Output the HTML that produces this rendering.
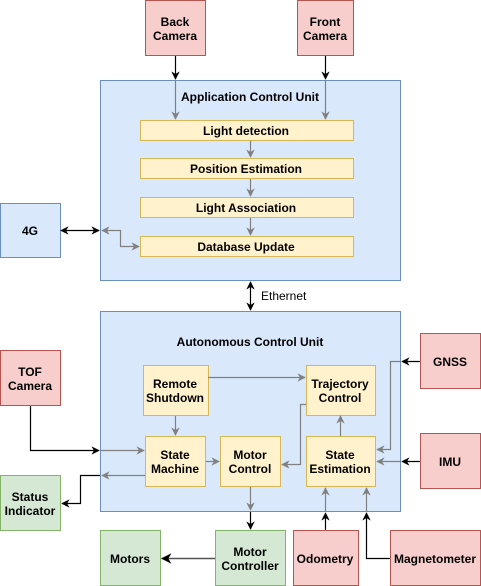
<!DOCTYPE html>
<html><head><meta charset="utf-8"><style>
html,body{margin:0;padding:0;background:#fff;}
svg{display:block;font-family:"Liberation Sans",Arial,sans-serif;font-weight:bold;font-size:12px;}
</style></head><body>
<svg width="481" height="586" viewBox="0 0 481 586" xmlns="http://www.w3.org/2000/svg">
<defs>
<marker id="ab" viewBox="0 0 10 10" refX="9" refY="5" markerWidth="7" markerHeight="7" orient="auto-start-reverse"><path d="M0,0 L10,5 L0,10 L3,5 z" fill="#000"/></marker>
<marker id="ag" viewBox="0 0 10 10" refX="9" refY="5" markerWidth="7" markerHeight="7" orient="auto-start-reverse"><path d="M0,0 L10,5 L0,10 L3,5 z" fill="#808080"/></marker>
</defs>
<!-- containers -->
<rect x="100.5" y="80.5" width="300" height="200" fill="#dae8fc" stroke="#6c8ebf"/>
<rect x="100.5" y="311.5" width="300" height="200" fill="#dae8fc" stroke="#6c8ebf"/>
<text x="250" y="101" text-anchor="middle">Application Control Unit</text>
<text x="250" y="346" text-anchor="middle">Autonomous Control Unit</text>
<!-- red boxes -->
<g fill="#f8cecc" stroke="#b85450">
<rect x="145.5" y="0.5" width="60" height="55"/>
<rect x="297.5" y="0.5" width="56" height="55"/>
<rect x="0.5" y="350.5" width="60" height="55"/>
<rect x="420.5" y="333.5" width="60" height="55"/>
<rect x="420.5" y="433.5" width="60" height="55"/>
<rect x="293.5" y="530.5" width="65" height="55"/>
<rect x="390.5" y="530.5" width="90" height="55"/>
</g>
<!-- blue 4G -->
<rect x="0.5" y="203.5" width="60" height="54" fill="#dae8fc" stroke="#6c8ebf"/>
<!-- green -->
<g fill="#d5e8d4" stroke="#82b366">
<rect x="0.5" y="475.5" width="60" height="55"/>
<rect x="100.5" y="530.5" width="60" height="55"/>
<rect x="215.5" y="530.5" width="70" height="55"/>
</g>
<!-- yellow -->
<g fill="#fff2cc" stroke="#d6b656">
<rect x="140.5" y="120.5" width="213" height="20"/>
<rect x="140.5" y="158.5" width="213" height="20"/>
<rect x="140.5" y="197.5" width="213" height="20"/>
<rect x="140.5" y="236.5" width="213" height="20"/>
<rect x="143.5" y="365.5" width="65" height="50"/>
<rect x="306.5" y="365.5" width="69" height="50"/>
<rect x="145.5" y="436.5" width="60" height="50"/>
<rect x="220.5" y="436.5" width="60" height="50"/>
<rect x="306.5" y="436.5" width="69" height="50"/>
</g>
<!-- black connectors -->
<g stroke="#000" fill="none" stroke-width="1.2">
<line x1="175.5" y1="56" x2="175.5" y2="79" marker-end="url(#ab)"/>
<line x1="325.5" y1="56" x2="325.5" y2="79" marker-end="url(#ab)"/>
<line x1="61" y1="230.5" x2="99" y2="230.5" marker-start="url(#ab)" marker-end="url(#ab)"/>
<line x1="250.5" y1="282" x2="250.5" y2="310" marker-start="url(#ab)" marker-end="url(#ab)"/>
<polyline points="30.5,406 30.5,450.5 99,450.5" marker-end="url(#ab)"/>
<polyline points="100,475.5 80.5,475.5 80.5,503.5 62,503.5" marker-end="url(#ab)"/>
<line x1="420" y1="361.5" x2="402" y2="361.5" marker-end="url(#ab)"/>
<line x1="420" y1="461.5" x2="402" y2="461.5" marker-end="url(#ab)"/>
<line x1="250.5" y1="512" x2="250.5" y2="529" marker-end="url(#ab)"/>
<line x1="325.5" y1="530" x2="325.5" y2="513" marker-end="url(#ab)"/>
<polyline points="390,558.5 366.5,558.5 366.5,513" marker-end="url(#ab)"/>
</g>
<!-- gray connectors -->
<g stroke="#808080" fill="none" stroke-width="1.2">
<line x1="175.5" y1="81" x2="175.5" y2="119" marker-end="url(#ag)"/>
<line x1="325.5" y1="81" x2="325.5" y2="119" marker-end="url(#ag)"/>
<line x1="250.5" y1="141" x2="250.5" y2="157" marker-end="url(#ag)"/>
<line x1="250.5" y1="179" x2="250.5" y2="196" marker-end="url(#ag)"/>
<line x1="250.5" y1="218" x2="250.5" y2="235" marker-end="url(#ag)"/>
<polyline points="139,246.5 120.5,246.5 120.5,230.5 102,230.5" marker-start="url(#ag)" marker-end="url(#ag)"/>
<line x1="101" y1="450.5" x2="144" y2="450.5" marker-end="url(#ag)"/>
<line x1="145" y1="475.5" x2="102" y2="475.5" marker-end="url(#ag)"/>
<line x1="208" y1="377.5" x2="305" y2="377.5" marker-end="url(#ag)"/>
<line x1="175.5" y1="416" x2="175.5" y2="435" marker-end="url(#ag)"/>
<line x1="206" y1="461.5" x2="219" y2="461.5" marker-end="url(#ag)"/>
<polyline points="306,404.5 300.5,404.5 300.5,464.5 282,464.5" marker-end="url(#ag)"/>
<line x1="340.5" y1="436" x2="340.5" y2="416" marker-end="url(#ag)"/>
<polyline points="401,361.5 390.5,361.5 390.5,449.5 377,449.5" marker-end="url(#ag)"/>
<line x1="401" y1="461.5" x2="377" y2="461.5" marker-end="url(#ag)"/>
<line x1="250.5" y1="487" x2="250.5" y2="510" marker-end="url(#ag)"/>
<line x1="325.5" y1="511" x2="325.5" y2="488" marker-end="url(#ag)"/>
<line x1="366.5" y1="511" x2="366.5" y2="488" marker-end="url(#ag)"/>
</g>
<g stroke="#555" fill="none" stroke-width="1.5">
<line x1="215" y1="558.5" x2="162" y2="558.5" marker-end="url(#ab)"/>
</g>
<!-- labels -->
<g text-anchor="middle" fill="#000">
<text x="175" y="26">Back</text><text x="175" y="40">Camera</text>
<text x="325" y="26">Front</text><text x="325" y="40">Camera</text>
<text x="246" y="135">Light detection</text>
<text x="246" y="173">Position Estimation</text>
<text x="246" y="212">Light Association</text>
<text x="246" y="251">Database Update</text>
<text x="30" y="235">4G</text>
<text x="30" y="376">TOF</text><text x="30" y="390">Camera</text>
<text x="175" y="388">Remote</text><text x="175" y="402">Shutdown</text>
<text x="340" y="388">Trajectory</text><text x="340" y="402">Control</text>
<text x="175" y="459">State</text><text x="175" y="473">Machine</text>
<text x="250" y="459">Motor</text><text x="250" y="473">Control</text>
<text x="340" y="459">State</text><text x="340" y="473">Estimation</text>
<text x="450" y="366">GNSS</text>
<text x="450" y="466">IMU</text>
<text x="30" y="501">Status</text><text x="30" y="515">Indicator</text>
<text x="130" y="563">Motors</text>
<text x="250" y="556">Motor</text><text x="250" y="570">Controller</text>
<text x="325" y="563">Odometry</text>
<text x="435" y="563">Magnetometer</text>
</g>
<text x="261" y="300" font-weight="normal" font-size="12">Ethernet</text>
</svg>
</body></html>
